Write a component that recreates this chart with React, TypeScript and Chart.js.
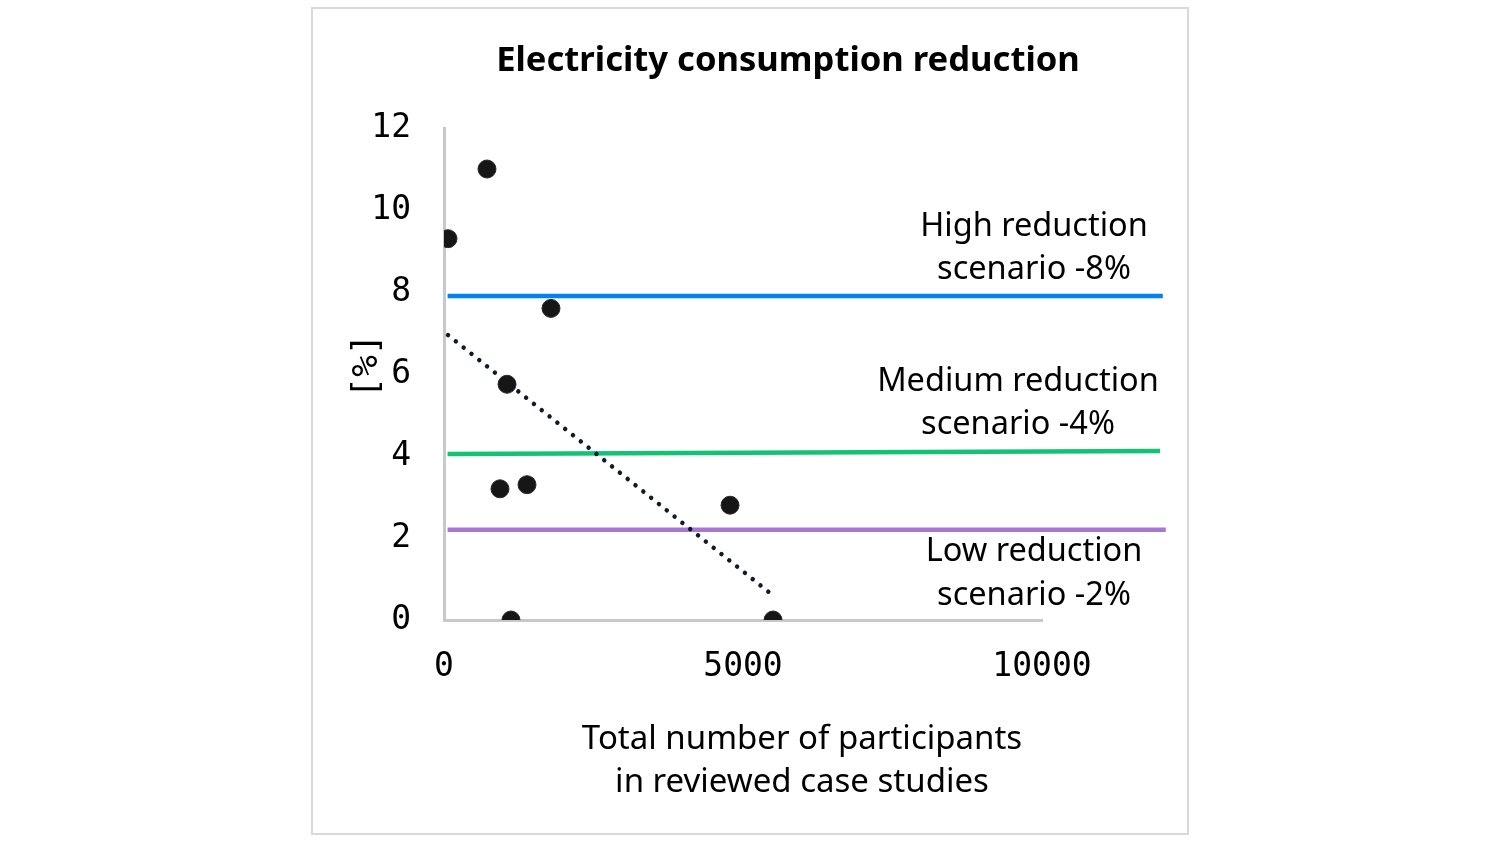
import { useEffect, useRef } from "react";
import { Chart, registerables } from "chart.js";

Chart.register(...registerables);

const chartTitle = "Electricity consumption reduction";
const xTitleLines = ["Total number of participants", "in reviewed case studies"];
const yTitle = "[%]";

const participants = [67, 719, 1789, 1054, 936, 1388, 4783, 1120, 5502];
const reductions = [9.3, 11.0, 7.6, 5.75, 3.2, 3.3, 2.8, 0, 0];

const trendX = [67, 5502];
const trendY = [6.95, 0.6];

const scenarioLabels = [
  ["High reduction", "scenario -8%"],
  ["Medium reduction", "scenario -4%"],
  ["Low reduction", "scenario -2%"],
];
const scenarioX = [
  [60, 12020],
  [60, 11975],
  [60, 12070],
];
const scenarioY = [
  [7.9, 7.9],
  [4.05, 4.12],
  [2.2, 2.2],
];
const scenarioColors = ["#0082f0", "#12c374", "#a877d4"];

const xMin = 0;
const xMax = 10000;
const xStep = 5000;
const yMin = 0;
const yMax = 12;
const yStep = 2;

const TEXT_FONT = "'Noto Sans', sans-serif";
const MONO_FONT = "'DejaVu Sans Mono', monospace";

const textPlugin = {
  id: "texts",
  beforeDraw(chart: any) {
    const ctx = chart.ctx;
    ctx.save();
    ctx.fillStyle = "#ffffff";
    ctx.fillRect(0, 0, chart.width, chart.height);
    ctx.strokeStyle = "#d9d9d9";
    ctx.lineWidth = 2;
    ctx.strokeRect(312, 8, 876, 826);
    ctx.restore();
  },
  afterDraw(chart: any) {
    const ctx = chart.ctx;
    ctx.save();
    ctx.fillStyle = "#000000";
    ctx.textAlign = "center";
    ctx.textBaseline = "middle";

    ctx.font = `bold 34.6px ${TEXT_FONT}`;
    ctx.fillText(chartTitle, 788, 61);

    ctx.font = `33px ${TEXT_FONT}`;
    ctx.fillText(xTitleLines[0], 802, 740);
    ctx.fillText(xTitleLines[1], 802, 783);

    ctx.font = `32.5px ${TEXT_FONT}`;
    const annCx = [1034, 1018, 1034];
    const annCy = [
      [227, 270],
      [382, 425],
      [552, 596],
    ];
    scenarioLabels.forEach((lines, i) => {
      lines.forEach((t, j) => ctx.fillText(t, annCx[i], annCy[i][j]));
    });

    ctx.translate(368, 366);
    ctx.rotate(-Math.PI / 2);
    ctx.font = `36px ${MONO_FONT}`;
    ctx.fillText(yTitle, 0, 0);
    ctx.restore();
  },
};

export default function App() {
  const ref = useRef<HTMLCanvasElement | null>(null);

  useEffect(() => {
    if (!ref.current) return;
    const scatterData = participants.map((x, i) => ({ x, y: reductions[i] }));
    const trendData = trendX.map((x, i) => ({ x, y: trendY[i] }));

    const scenarioSets = scenarioLabels.map((lines, i) => ({
      type: "line" as const,
      label: lines.join(" "),
      data: scenarioX[i].map((x, j) => ({ x, y: scenarioY[i][j] })),
      borderColor: scenarioColors[i],
      borderWidth: 4.5,
      pointRadius: 0,
      fill: false,
      clip: false as any,
      order: 3,
    }));

    const chart = new Chart(ref.current, {
      type: "scatter",
      data: {
        datasets: [
          ...scenarioSets,
          {
            type: "line",
            label: "Trend",
            data: trendData,
            borderColor: "#0f1a2c",
            borderWidth: 4.5,
            borderDash: [0.01, 10],
            borderCapStyle: "round",
            pointRadius: 0,
            fill: false,
            order: 2,
          },
          {
            type: "scatter",
            label: "Case studies",
            data: scatterData,
            backgroundColor: "#161616",
            borderColor: "#2a2a2a",
            borderWidth: 1,
            pointRadius: 9,
            order: 1,
          },
        ] as any,
      },
      options: {
        animation: false,
        responsive: true,
        maintainAspectRatio: false,
        devicePixelRatio: 1,
        layout: { padding: { left: 0, top: 128, right: 458, bottom: 0 } },
        plugins: {
          legend: { display: false },
          tooltip: { enabled: false },
          title: { display: false },
        },
        scales: {
          x: {
            type: "linear",
            min: xMin,
            max: xMax,
            ticks: {
              stepSize: xStep,
              color: "#000000",
              font: { family: MONO_FONT, size: 33 },
              padding: 28,
              maxRotation: 0,
              callback: (v: any) => String(v),
            },
            grid: { display: false, drawTicks: false },
            border: { display: true, color: "#c8c8c8", width: 3 },
            afterFit: (s: any) => {
              s.height = 224;
            },
          },
          y: {
            type: "linear",
            min: yMin,
            max: yMax,
            ticks: {
              stepSize: yStep,
              color: "#000000",
              font: { family: MONO_FONT, size: 33 },
              padding: 33,
              callback: (v: any) => String(v),
            },
            grid: { display: false, drawTicks: false },
            border: { display: true, color: "#c8c8c8", width: 3 },
            afterFit: (s: any) => {
              s.width = 444;
            },
          },
        },
      },
      plugins: [textPlugin],
    });
    return () => chart.destroy();
  }, []);

  return (
    <div style={{ position: "absolute", left: 0, top: 0, width: 1500, height: 844 }}>
      <canvas ref={ref} />
    </div>
  );
}
